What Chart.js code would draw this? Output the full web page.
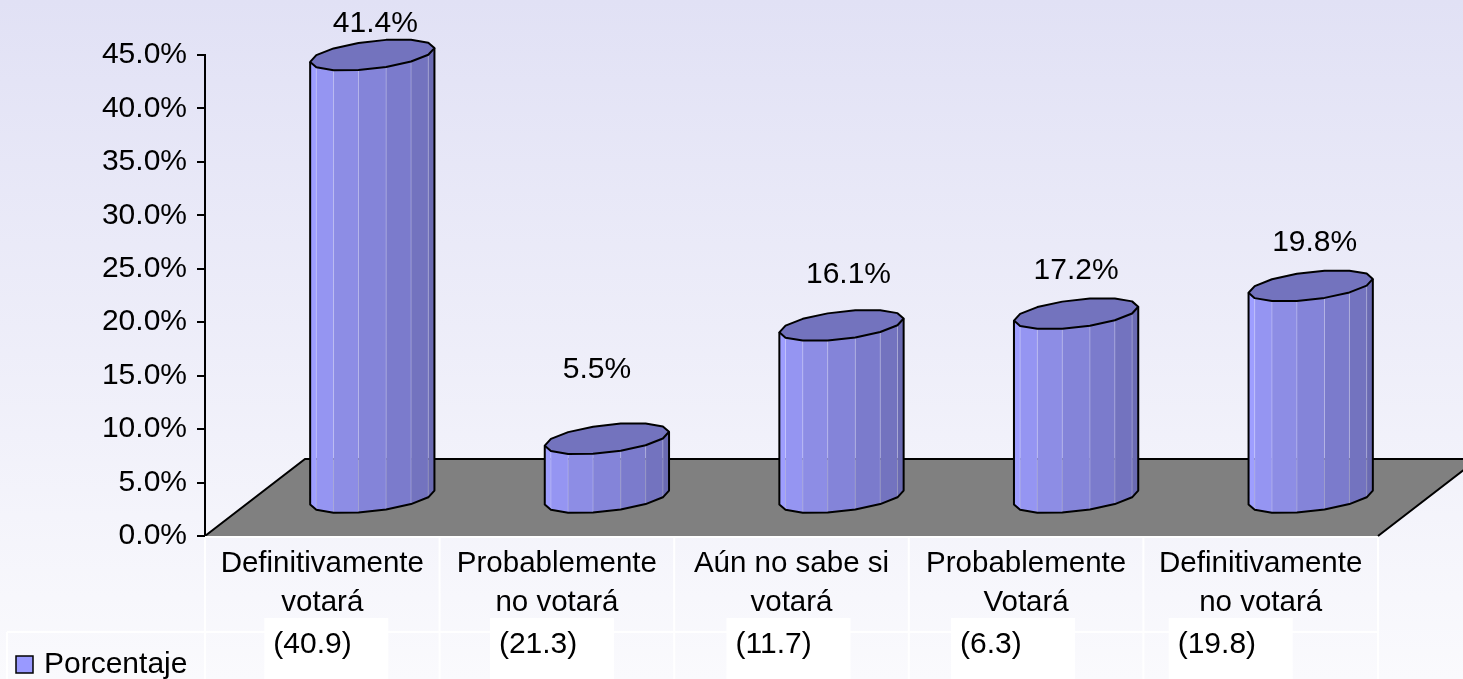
<!DOCTYPE html>
<html lang="es">
<head>
    <meta charset="UTF-8" />
    <title>Intención de voto</title>
    <script src="https://cdn.jsdelivr.net/npm/chart.js"></script>
    <style>
        html, body { margin: 0; padding: 0; background: #fff; }
        #chart { display: block; }
    </style>
</head>
<body>
<canvas id="chart" width="1463" height="679"></canvas>

<script>
// datos
const categories = [
    ['Definitivamente', 'votará'],
    ['Probablemente', 'no votará'],
    ['Aún no sabe si', 'votará'],
    ['Probablemente', 'Votará'],
    ['Definitivamente', 'no votará']
];
const percentages = [41.4, 5.5, 16.1, 17.2, 19.8];
const previousValues = [40.9, 21.3, 11.7, 6.3, 19.8];
const seriesName = 'Porcentaje';
const yMin = 0, yMax = 45, yStep = 5;

// estilo (profundidad del piso 3D, ajustes de etiquetas)
const DEPTH_X = 100, DEPTH_Y = 77;
const labelNudge = [[3, 31], [-10, 69], [7, 51], [0, 43], [4, 43]];
const noteShift = [-49, -58, -56, -66, -83];
const FONT = 'Arial, "Liberation Sans", sans-serif';

Chart.defaults.font.family = FONT;
Chart.defaults.color = '#000';

function mix(c1, c2, t) {
    return 'rgb(' + c1.map((v, i) => Math.round(v + (c2[i] - v) * t)).join(',') + ')';
}

function drawCylinder(ctx, cx, yTop, yBot, half) {
    const a = half * 0.895, b = half * 0.445, c = half * 0.25;
    const th0 = Math.atan2(b, a);
    const pt = (th, cy) => [cx + a * Math.cos(th) + b * Math.sin(th), cy - c * Math.sin(th)];
    const steps = 7;

    // caras laterales visibles
    for (let i = 0; i < steps; i++) {
        const t1 = th0 + Math.PI + Math.PI * i / steps;
        const t2 = th0 + Math.PI + Math.PI * (i + 1) / steps;
        const p1 = pt(t1, yTop), p2 = pt(t2, yTop), p3 = pt(t2, yBot), p4 = pt(t1, yBot);
        ctx.beginPath();
        ctx.moveTo(p1[0], p1[1]);
        ctx.lineTo(p2[0], p2[1]);
        ctx.lineTo(p3[0], p3[1]);
        ctx.lineTo(p4[0], p4[1]);
        ctx.closePath();
        ctx.fillStyle = mix([158, 158, 255], [106, 106, 178], i / (steps - 1));
        ctx.fill();
        if (i > 0) {
            ctx.beginPath();
            ctx.moveTo(p1[0], p1[1]);
            ctx.lineTo(p4[0], p4[1]);
            ctx.strokeStyle = 'rgba(255,255,255,0.25)';
            ctx.lineWidth = 1;
            ctx.stroke();
        }
    }

    // contorno lateral
    ctx.beginPath();
    let p = pt(th0 + Math.PI, yTop);
    ctx.moveTo(p[0], p[1]);
    for (let i = 0; i <= steps; i++) {
        p = pt(th0 + Math.PI + Math.PI * i / steps, yBot);
        ctx.lineTo(p[0], p[1]);
    }
    p = pt(th0 + 2 * Math.PI, yTop);
    ctx.lineTo(p[0], p[1]);
    ctx.strokeStyle = '#000';
    ctx.lineWidth = 2;
    ctx.lineJoin = 'round';
    ctx.stroke();

    // tapa superior
    ctx.beginPath();
    for (let i = 0; i < steps * 2; i++) {
        p = pt(th0 + Math.PI * i / steps, yTop);
        if (i === 0) ctx.moveTo(p[0], p[1]); else ctx.lineTo(p[0], p[1]);
    }
    ctx.closePath();
    ctx.fillStyle = '#7373be';
    ctx.fill();
    ctx.stroke();
}

const scene = {
    id: 'scene',
    beforeDraw(chart) {
        const { ctx, width, height, chartArea: area } = chart;
        const y0 = chart.scales.y.getPixelForValue(yMin);
        ctx.save();
        const g = ctx.createLinearGradient(0, 0, 0, height);
        g.addColorStop(0, '#e1e1f5');
        g.addColorStop(1, '#fafafd');
        ctx.fillStyle = g;
        ctx.fillRect(0, 0, width, height);

        // piso
        ctx.beginPath();
        ctx.moveTo(area.left, y0);
        ctx.lineTo(area.right, y0);
        ctx.lineTo(area.right + DEPTH_X, y0 - DEPTH_Y);
        ctx.lineTo(area.left + DEPTH_X, y0 - DEPTH_Y);
        ctx.closePath();
        ctx.fillStyle = '#808080';
        ctx.fill();
        ctx.beginPath();
        ctx.moveTo(area.left, y0);
        ctx.lineTo(area.left + DEPTH_X, y0 - DEPTH_Y);
        ctx.lineTo(area.right + DEPTH_X, y0 - DEPTH_Y);
        ctx.moveTo(area.right, y0);
        ctx.lineTo(area.right + DEPTH_X, y0 - DEPTH_Y);
        ctx.strokeStyle = '#000';
        ctx.lineWidth = 2;
        ctx.stroke();
        ctx.restore();
    },
    afterDatasetsDraw(chart) {
        const { ctx } = chart;
        const yScale = chart.scales.y;
        const meta = chart.getDatasetMeta(0);
        const yBot = yScale.getPixelForValue(yMin) - DEPTH_Y / 2;
        ctx.save();
        meta.data.forEach((bar, i) => {
            const v = percentages[i];
            const cx = bar.x + DEPTH_X / 2;
            const yTop = yScale.getPixelForValue(v) - DEPTH_Y / 2;
            drawCylinder(ctx, cx, yTop, yBot, bar.width / 2);

            ctx.font = '30px ' + FONT;
            ctx.fillStyle = '#000';
            ctx.textAlign = 'center';
            ctx.textBaseline = 'middle';
            ctx.fillText(v.toFixed(1) + '%', cx + labelNudge[i][0], yTop - labelNudge[i][1]);
        });
        ctx.restore();
    },
    afterDraw(chart) {
        const { ctx, chartArea: area, height } = chart;
        const xScale = chart.scales.x;
        const y0 = chart.scales.y.getPixelForValue(yMin);
        const cellW = (area.right - area.left) / categories.length;
        const rowY = 632;
        ctx.save();

        // líneas de la tabla
        ctx.strokeStyle = '#ffffff';
        ctx.lineWidth = 2;
        ctx.beginPath();
        ctx.moveTo(area.left, y0 + 1);
        ctx.lineTo(area.right, y0 + 1);
        ctx.moveTo(7, rowY);
        ctx.lineTo(area.right, rowY);
        ctx.moveTo(7, rowY);
        ctx.lineTo(7, height);
        for (let i = 0; i <= categories.length; i++) {
            const x = area.left + cellW * i;
            ctx.moveTo(x, y0 + 1);
            ctx.lineTo(x, height);
        }
        ctx.stroke();

        // cuadros con valores anteriores
        ctx.font = '30px ' + FONT;
        ctx.textAlign = 'left';
        ctx.textBaseline = 'middle';
        previousValues.forEach((v, i) => {
            const tx = xScale.getPixelForValue(i) + noteShift[i];
            ctx.fillStyle = '#ffffff';
            ctx.fillRect(tx - 9, 618, 124, height - 618);
            ctx.fillStyle = '#000';
            ctx.fillText('(' + v.toFixed(1) + ')', tx, 645);
        });

        // leyenda
        ctx.fillStyle = '#9999ff';
        ctx.fillRect(16, 656, 17, 17);
        ctx.strokeStyle = '#000';
        ctx.lineWidth = 1.5;
        ctx.strokeRect(16, 656, 17, 17);
        ctx.fillStyle = '#000';
        ctx.fillText(seriesName, 44, 665);
        ctx.restore();
    }
};

new Chart(document.getElementById('chart'), {
    type: 'bar',
    data: {
        labels: categories,
        datasets: [{
            label: seriesName,
            data: percentages,
            backgroundColor: 'rgba(0,0,0,0)',
            borderWidth: 0,
            categoryPercentage: 1,
            barPercentage: 0.53
        }]
    },
    options: {
        responsive: false,
        animation: false,
        devicePixelRatio: 1,
        layout: { padding: { top: 55, right: 85, left: 0, bottom: 0 } },
        plugins: {
            legend: { display: false },
            tooltip: { enabled: false }
        },
        scales: {
            x: {
                grid: { display: false, drawTicks: false },
                border: { display: false },
                ticks: {
                    font: { size: 29.5, lineHeight: 1.33 },
                    padding: 8,
                    maxRotation: 0,
                    autoSkip: false
                },
                afterFit(scale) { scale.height = 143; }
            },
            y: {
                min: yMin,
                max: yMax,
                grid: {
                    drawOnChartArea: false,
                    drawTicks: true,
                    tickLength: 8,
                    color: '#000',
                    lineWidth: 2
                },
                border: { display: true, color: '#000', width: 2 },
                ticks: {
                    stepSize: yStep,
                    padding: 10,
                    font: { size: 30 },
                    callback: v => v.toFixed(1) + '%'
                },
                afterFit(scale) { scale.width = 205; }
            }
        }
    },
    plugins: [scene]
});
</script>
</body>
</html>
